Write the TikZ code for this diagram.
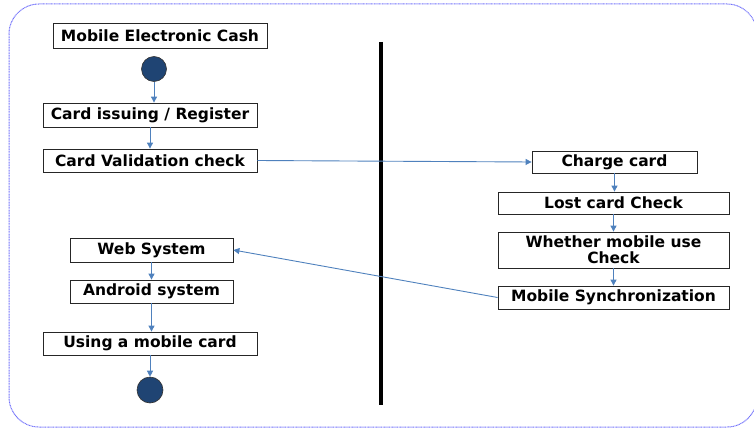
\documentclass[tikz,border=0pt]{standalone}
\usepackage{fontspec}
\setmainfont{DejaVu Sans}
\usetikzlibrary{arrows.meta}
\definecolor{flowblue}{RGB}{79,129,189}
\definecolor{dotnavy}{RGB}{31,68,115}
\definecolor{framecol}{RGB}{115,115,250}
\tikzset{
  box/.style={draw=black!85, line width=0.8pt, fill=white, inner sep=0pt,
    font=\fontsize{15.5}{16}\selectfont\bfseries, align=center},
  dot/.style={circle, draw=black!80, line width=0.6pt, fill=dotnavy, inner sep=0pt},
  flow/.style={draw=flowblue, line width=0.9pt, -{Triangle[length=6pt,width=6pt]}},
}
\begin{document}
\begin{tikzpicture}[x=1pt, y=-1pt]
\useasboundingbox (0,0) rectangle (754,428);
% dotted frame
\draw[framecol, line width=1pt, dash pattern=on 1pt off 0.6pt, rounded corners=30pt]
  (9,4) rectangle (757,427);
% swimlane divider
\draw[black, line width=3.5pt] (381,42) -- (381,405);

% left lane
\node[box, minimum width=214pt, minimum height=25pt] (mec) at (160,35.5) {Mobile Electronic Cash};
\node[dot, minimum size=25pt] (start) at (154,69) {};
\node[box, minimum width=214pt, minimum height=24pt] (issue) at (150,115) {Card issuing / Register};
\node[box, minimum width=214pt, minimum height=23pt] (valid) at (150,160.5) {Card Validation check};
\node[box, minimum width=163pt, minimum height=24pt] (web) at (151.5,250) {Web System};
\node[box, minimum width=163pt, minimum height=23pt] (android) at (151.5,291.5) {Android system};
\node[box, minimum width=214pt, minimum height=23pt] (using) at (150,343.5) {Using a mobile card};
\node[dot, minimum size=26pt] (end) at (150,390) {};

% right lane
\node[box, minimum width=165pt, minimum height=22pt] (charge) at (614.5,162) {Charge card};
\node[box, minimum width=231pt, minimum height=22pt] (lost) at (613.5,203) {Lost card Check};
\node[box, minimum width=231pt, minimum height=36pt] (whether) at (613.5,250) {Whether mobile use\\Check};
\node[box, minimum width=231pt, minimum height=23pt] (sync) at (613.5,297.5) {Mobile Synchronization};

% flows
\draw[flow] (start.south) -- (start.south |- issue.north);
\draw[flow] (issue.south) -- (issue.south |- valid.north);
\draw[flow] (valid.east) -- (charge.west);
\draw[flow] (charge.south) -- (charge.south |- lost.north);
\draw[flow] (lost.south) -- (lost.south |- whether.north);
\draw[flow] (whether.south) -- (whether.south |- sync.north);
\draw[flow] (sync.west) -- (web.east);
\draw[flow] (web.south) -- (web.south |- android.north);
\draw[flow] (android.south) -- (android.south |- using.north);
\draw[flow] (using.south) -- (using.south |- end.north);
\end{tikzpicture}
\end{document}
